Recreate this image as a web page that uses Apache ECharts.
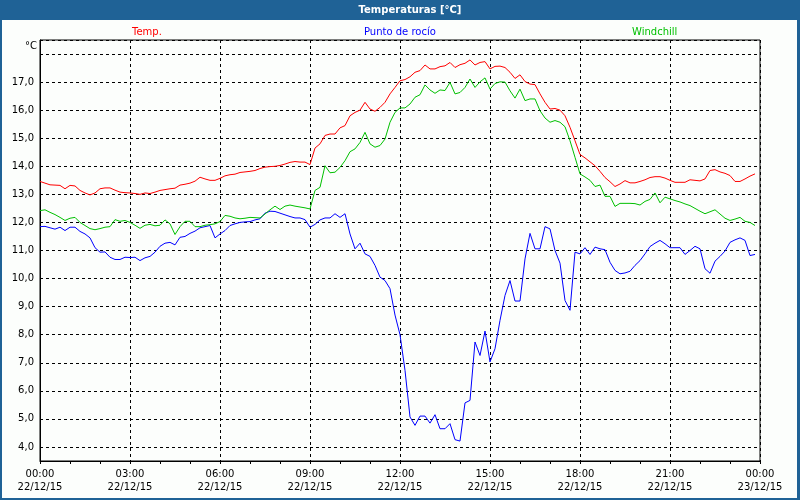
<!DOCTYPE html>
<html><head><meta charset="utf-8">
<script src="https://cdn.jsdelivr.net/npm/echarts@6/dist/echarts.min.js"></script>
<style>html,body{margin:0;padding:0;background:#fff}#c{width:800px;height:500px}</style>
</head><body><div id="c"></div>
<script>
// Sampling: one reading every 10 minutes from 00:00 (22/12/15)
const startMinute = 0;
const stepMinutes = 10;

const temp = [
  13.46,13.40,13.34,13.33,13.32,13.20,13.32,13.30,13.14,13.05,12.98,13.05,
  13.20,13.23,13.23,13.15,13.08,13.06,13.05,13.03,13.00,13.05,13.03,13.08,
  13.14,13.17,13.20,13.22,13.33,13.36,13.40,13.47,13.61,13.55,13.50,13.50,
  13.57,13.66,13.70,13.72,13.78,13.80,13.82,13.85,13.92,13.97,13.99,14.00,
  14.03,14.08,14.14,14.17,14.15,14.15,14.06,14.65,14.80,15.10,15.15,15.15,
  15.37,15.45,15.80,15.92,16.00,16.28,16.04,15.96,16.10,16.28,16.58,16.81,
  17.05,17.09,17.19,17.35,17.41,17.61,17.47,17.47,17.55,17.58,17.70,17.52,
  17.62,17.67,17.79,17.61,17.70,17.73,17.47,17.56,17.57,17.52,17.35,17.13,
  17.26,17.02,16.93,16.91,16.58,16.28,16.04,16.06,16.00,15.80,15.39,14.91,
  14.42,14.30,14.16,14.02,13.82,13.60,13.45,13.28,13.37,13.49,13.41,13.41,
  13.46,13.52,13.60,13.63,13.63,13.58,13.50,13.43,13.43,13.43,13.52,13.50,
  13.48,13.55,13.85,13.88,13.80,13.75,13.67,13.46,13.46,13.55,13.65,13.73
];
const dewPoint = [
  11.85,11.86,11.81,11.76,11.83,11.71,11.83,11.83,11.68,11.59,11.45,11.10,
  10.94,10.95,10.76,10.68,10.68,10.76,10.75,10.76,10.64,10.74,10.79,10.94,
  11.15,11.26,11.29,11.20,11.47,11.50,11.61,11.69,11.81,11.85,11.89,11.45,
  11.59,11.71,11.89,11.95,12.00,12.02,12.03,12.09,12.13,12.33,12.40,12.39,
  12.33,12.27,12.21,12.16,12.16,12.10,11.83,11.93,12.09,12.16,12.16,12.31,
  12.18,12.31,11.59,11.06,11.26,10.88,10.79,10.47,10.05,9.93,9.64,8.70,
  8.00,6.73,5.07,4.77,5.10,5.10,4.85,5.15,4.65,4.65,4.83,4.26,
  4.21,5.57,5.66,7.74,7.26,8.13,7.03,7.50,8.51,9.40,9.93,9.20,
  9.20,10.70,11.61,11.06,11.06,11.85,11.77,11.00,10.55,9.22,8.87,10.94,
  10.88,11.10,10.86,11.12,11.06,11.03,10.58,10.29,10.17,10.20,10.26,10.47,
  10.64,10.88,11.14,11.26,11.36,11.24,11.10,11.10,11.10,10.86,11.00,11.15,
  11.06,10.35,10.19,10.62,10.79,10.98,11.29,11.38,11.45,11.36,10.82,10.86
];
const windchill = [
  12.42,12.45,12.36,12.28,12.18,12.07,12.15,12.18,12.00,11.89,11.78,11.74,
  11.78,11.83,11.85,12.10,12.04,12.07,12.00,11.90,11.79,11.90,11.93,11.88,
  11.90,12.09,11.95,11.57,11.85,12.04,12.04,11.85,11.85,11.90,11.92,11.95,
  12.03,12.25,12.22,12.16,12.13,12.15,12.18,12.17,12.16,12.30,12.45,12.58,
  12.46,12.58,12.62,12.58,12.55,12.52,12.48,13.14,13.25,14.02,13.77,13.79,
  13.96,14.20,14.52,14.62,14.85,15.21,14.80,14.68,14.74,14.97,15.57,15.92,
  16.08,16.08,16.22,16.46,16.55,16.90,16.72,16.60,16.72,16.70,16.99,16.58,
  16.63,16.81,17.11,16.81,17.01,17.15,16.75,16.95,17.01,17.00,16.69,16.43,
  16.75,16.34,16.40,16.40,15.98,15.72,15.57,15.63,15.57,15.41,14.91,14.32,
  13.73,13.62,13.50,13.28,13.33,12.93,12.93,12.57,12.68,12.68,12.68,12.67,
  12.62,12.75,12.82,13.05,12.70,12.90,12.84,12.78,12.73,12.66,12.60,12.50,
  12.40,12.31,12.38,12.45,12.30,12.15,12.07,12.12,12.18,12.04,12.00,11.89
];

const seriesNames = ['Temp.', 'Punto de rocío', 'Windchill'];
const xTickTimes = ['00:00','03:00','06:00','09:00','12:00','15:00','18:00','21:00','00:00'];
const xTickDates = ['22/12/15','22/12/15','22/12/15','22/12/15','22/12/15','22/12/15','22/12/15','22/12/15','23/12/15'];
const yUnit = '°C';
const chartTitle = 'Temperaturas [°C]';

const FONT = 'DejaVu Sans';
const FRAME = '#1f6296';
const toPairs = arr => arr.map((v, i) => [startMinute + i * stepMinutes, v]);

const chart = echarts.init(document.getElementById('c'), null, {renderer: 'canvas'});
const mkLegend = (name, color, left) => ({
  data: [{name: name, textStyle: {color: color}}],
  left: left, top: 25, padding: 0, icon: 'none', itemWidth: 0, itemHeight: 14,
  selectedMode: false,
  textStyle: {fontFamily: FONT, fontSize: 10, color: color}
});
chart.setOption({
  animation: false,
  backgroundColor: '#fcfefc',
  legend: [
    mkLegend(seriesNames[0], '#ff0000', 127),
    mkLegend(seriesNames[1], '#0000ff', 359),
    mkLegend(seriesNames[2], '#00c000', 627)
  ],
  grid: {left: 40, right: 40, top: 40, height: 421, show: true, borderColor: '#000', borderWidth: 1, backgroundColor: 'transparent'},
  xAxis: {
    type: 'value', min: 0, max: 1440, interval: 180,
    axisLine: {lineStyle: {color: '#000', width: 1}},
    axisTick: {show: true, inside: false, length: 3, lineStyle: {color: '#000'}},
    minorTick: {show: true, splitNumber: 3, length: 3, lineStyle: {color: '#000'}},
    splitLine: {show: true, lineStyle: {color: '#000', type: [3, 3], width: 1}},
    axisLabel: {
      margin: 7, lineHeight: 13, fontFamily: FONT, fontSize: 10, color: '#000',
      formatter: v => { const k = Math.round(v / 180); return xTickTimes[k] + '\n' + xTickDates[k]; }
    }
  },
  yAxis: {
    type: 'value', min: 3.5, max: 18.5, splitNumber: 15,
    axisLine: {show: true, lineStyle: {color: '#000', width: 1}},
    axisTick: {show: false},
    splitLine: {show: true, lineStyle: {color: '#000', type: [3, 3], width: 1}},
    axisLabel: {
      margin: 6, fontFamily: FONT, fontSize: 10, color: '#000',
      formatter: v => (Math.abs(v - Math.round(v)) > 1e-6 || v > 17.5) ? '' : v.toFixed(1).replace('.', ',')
    }
  },
  series: [
    {name: seriesNames[0], type: 'line', data: toPairs(temp), showSymbol: false, symbol: 'none', lineStyle: {color: '#ff0000', width: 1}, itemStyle: {color: '#ff0000'}},
    {name: seriesNames[1], type: 'line', data: toPairs(dewPoint), showSymbol: false, symbol: 'none', lineStyle: {color: '#0000ff', width: 1}, itemStyle: {color: '#0000ff'}},
    {name: seriesNames[2], type: 'line', data: toPairs(windchill), showSymbol: false, symbol: 'none', lineStyle: {color: '#00c000', width: 1}, itemStyle: {color: '#00c000'}}
  ],
  graphic: [
    {type: 'rect', shape: {x: 0, y: 0, width: 800, height: 20}, style: {fill: FRAME}, silent: true},
    {type: 'rect', shape: {x: 0, y: 0, width: 2, height: 500}, style: {fill: FRAME}, silent: true},
    {type: 'rect', shape: {x: 797, y: 0, width: 3, height: 500}, style: {fill: FRAME}, silent: true},
    {type: 'rect', shape: {x: 0, y: 498, width: 800, height: 2}, style: {fill: FRAME}, silent: true},
    {type: 'text', x: 410, y: 10, style: {text: chartTitle, fill: '#fff', font: 'bold 10px "DejaVu Sans"', textAlign: 'center', textVerticalAlign: 'middle'}, silent: true},
    {type: 'text', x: 37, y: 46, style: {text: yUnit, fill: '#000', font: '10px "DejaVu Sans"', textAlign: 'right', textVerticalAlign: 'middle'}, silent: true}
  ]
});
</script></body></html>
